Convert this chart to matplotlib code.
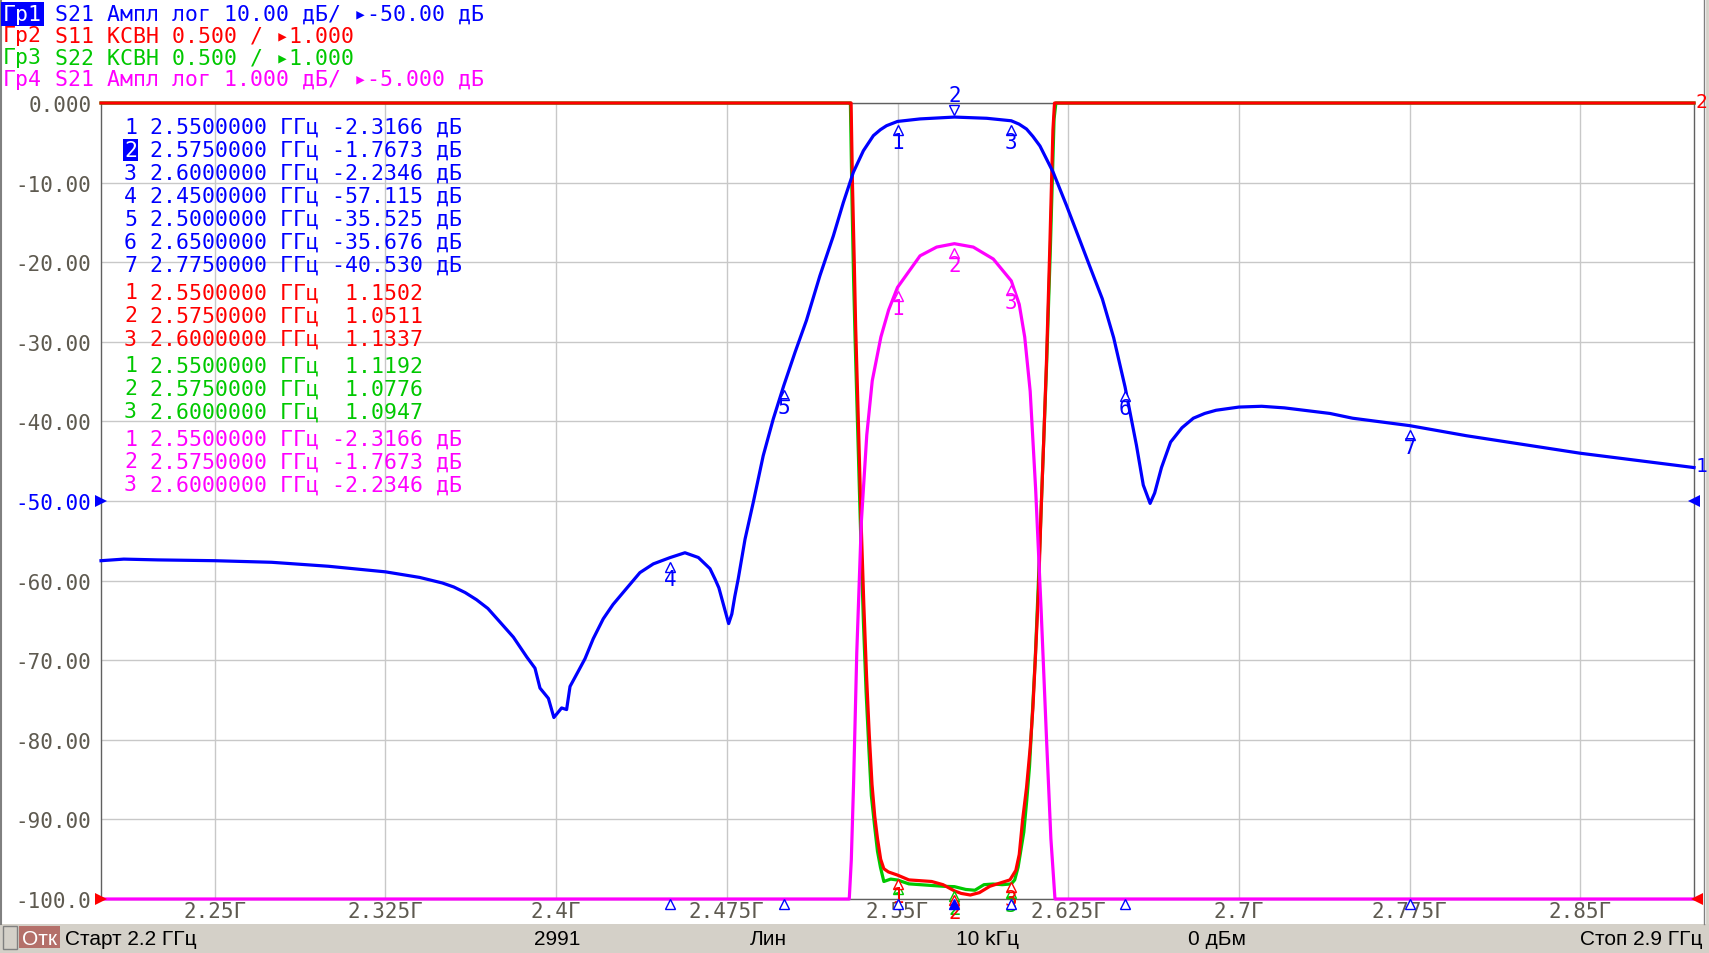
import numpy as np
import matplotlib
matplotlib.use('Agg')
import matplotlib.pyplot as plt
from matplotlib.transforms import offset_copy, blended_transform_factory
from matplotlib.patches import Rectangle
from matplotlib.lines import Line2D

# --- trace data ------------------------------------------------------------
# Tr1: S21, log magnitude (dB)
blue_f = [2.200, 2.210, 2.225, 2.250, 2.275, 2.300, 2.325, 2.340, 2.350, 2.355,
          2.360, 2.365, 2.370, 2.3753, 2.3812, 2.3871, 2.3907, 2.3929, 2.3966, 2.3990,
          2.4024, 2.4046, 2.4061, 2.4097, 2.4127, 2.4163, 2.4207, 2.4250, 2.4300, 2.4368,
          2.4427, 2.4500, 2.4566, 2.4625, 2.4676, 2.4698, 2.4715, 2.4735, 2.4758, 2.4772,
          2.4785, 2.4800, 2.4830, 2.4866, 2.4910, 2.4954, 2.5000, 2.5050, 2.5100, 2.5159,
          2.5218, 2.5262, 2.5306, 2.5350, 2.5394, 2.5425, 2.5452, 2.5500, 2.5599, 2.5750,
          2.5892, 2.6000, 2.6034, 2.6067, 2.6095, 2.6126, 2.6184, 2.6243, 2.6294, 2.6350,
          2.6400, 2.6450, 2.6500, 2.6550, 2.6580, 2.6610, 2.6630, 2.6660, 2.6700, 2.6750,
          2.6800, 2.6850, 2.6900, 2.7000, 2.7100, 2.7200, 2.7400, 2.7500, 2.7750, 2.8000,
          2.8250, 2.8500, 2.8750, 2.9000]
blue_db = [-57.5, -57.3, -57.4, -57.5, -57.7, -58.2, -58.9, -59.6, -60.3, -60.8,
           -61.5, -62.4, -63.5, -65.2, -67.1, -69.6, -71.0, -73.5, -74.8, -77.2,
           -76.0, -76.2, -73.3, -71.4, -69.8, -67.3, -64.8, -63.0, -61.3, -59.0,
           -57.9, -57.115, -56.5, -57.1, -58.5, -59.8, -60.9, -63.0, -65.4, -64.2,
           -62.0, -59.8, -54.8, -50.2, -44.3, -39.7, -35.525, -31.3, -27.3, -21.7,
           -16.7, -12.5, -8.7, -6.0, -4.1, -3.35, -2.85, -2.3166, -2.0, -1.7673,
           -1.92, -2.2346, -2.65, -3.27, -4.2, -5.4, -8.7, -12.9, -16.7, -20.9,
           -24.6, -29.5, -35.676, -43.0, -48.0, -50.3, -49.0, -45.8, -42.6, -40.8,
           -39.6, -39.0, -38.6, -38.2, -38.1, -38.3, -39.0, -39.6, -40.53, -41.8,
           -42.9, -44.0, -44.9, -45.8]

# Tr2: S11, VSWR
red_f = [2.200, 2.5282, 2.5291, 2.5296, 2.5302, 2.5310, 2.5316, 2.5328, 2.5340, 2.5352,
         2.5364, 2.5376, 2.5388, 2.5400, 2.5412, 2.5426, 2.5440, 2.5460, 2.5500, 2.5550,
         2.5600, 2.5650, 2.5700, 2.5750, 2.5780, 2.5820, 2.5860, 2.5906, 2.5950, 2.5994,
         2.6000, 2.6020, 2.6035, 2.6050, 2.6067, 2.6083, 2.6095, 2.6107, 2.6120, 2.6131,
         2.6143, 2.6155, 2.6169, 2.6183, 2.6190, 2.6200, 2.9000]
red_vswr = [30, 30, 8.0, 6.0, 5.5, 5.0, 4.6, 4.0, 3.37, 2.85,
            2.4, 2.03, 1.72, 1.52, 1.38, 1.25, 1.19, 1.17, 1.1502, 1.12,
            1.115, 1.11, 1.09, 1.0511, 1.035, 1.025, 1.04, 1.08, 1.10, 1.12,
            1.1337, 1.18, 1.28, 1.5, 1.7, 1.95, 2.2, 2.55, 2.95, 3.44,
            3.9, 4.39, 5.08, 5.83, 6.2, 30, 30]

# Tr3: S22, VSWR
green_f = [2.200, 2.5278, 2.5287, 2.5293, 2.5300, 2.5307, 2.5314, 2.5326, 2.5338, 2.5350,
           2.5362, 2.5374, 2.5385, 2.5400, 2.5412, 2.5425, 2.5440, 2.5470, 2.5500, 2.5550,
           2.5600, 2.5650, 2.5700, 2.5750, 2.5800, 2.5840, 2.5880, 2.5920, 2.5960, 2.6000,
           2.6015, 2.6030, 2.6055, 2.6068, 2.6080, 2.6092, 2.6105, 2.6118, 2.6130, 2.6143,
           2.6155, 2.6172, 2.6188, 2.6196, 2.6206, 2.9000]
green_vswr = [30, 30, 8.0, 6.0, 5.4, 4.9, 4.5, 3.9, 3.3, 2.75,
              2.3, 1.95, 1.65, 1.45, 1.3, 1.2, 1.11, 1.125, 1.1192, 1.095,
              1.09, 1.085, 1.08, 1.0776, 1.06, 1.055, 1.09, 1.094, 1.09, 1.0947,
              1.12, 1.2, 1.42, 1.62, 1.83, 2.15, 2.5, 2.95, 3.4, 3.9,
              4.35, 5.1, 5.9, 6.3, 30, 30]

# Tr4: S21, log magnitude zoomed (1 dB/div, ref -5 dB)
mag_f = [2.200, 2.5288, 2.5297, 2.5307, 2.5321, 2.5341, 2.5365, 2.5389, 2.5427, 2.5461,
         2.5500, 2.5599, 2.5672, 2.5750, 2.5833, 2.5921, 2.6000, 2.6035, 2.6059, 2.6083,
         2.6107, 2.6131, 2.6155, 2.6174, 2.6192, 2.9000]
mag_db = [-40, -40, -9.51, -8.55, -6.91, -5.27, -4.17, -3.49, -2.94, -2.60,
          -2.3166, -1.92, -1.81, -1.7673, -1.81, -1.96, -2.2346, -2.53, -2.94, -3.62,
          -4.85, -6.36, -8.0, -9.24, -40, -40]

# markers
blue_mk_f = [2.55, 2.575, 2.60, 2.45, 2.50, 2.65, 2.775]
blue_mk_v = [-2.3166, -1.7673, -2.2346, -57.115, -35.525, -35.676, -40.530]
red_mk_f = [2.55, 2.575, 2.60]
red_mk_v = [1.1502, 1.0511, 1.1337]
green_mk_f = [2.55, 2.575, 2.60]
green_mk_v = [1.1192, 1.0776, 1.0947]
mag_mk_f = [2.55, 2.575, 2.60]
mag_mk_v = [-2.3166, -1.7673, -2.2346]

xtick_vals = [2.25, 2.325, 2.40, 2.475, 2.55, 2.625, 2.70, 2.775, 2.85]
xtick_labels = ['2.25Г', '2.325Г', '2.4Г', '2.475Г', '2.55Г', '2.625Г', '2.7Г', '2.775Г', '2.85Г']
ytick_vals = [0, -10, -20, -30, -40, -50, -60, -70, -80, -90, -100]
ytick_labels = ['0.000', '-10.00', '-20.00', '-30.00', '-40.00', '-50.00',
                '-60.00', '-70.00', '-80.00', '-90.00', '-100.0']

header_tags = ['Гр1', 'Гр2', 'Гр3', 'Гр4']
header_lines = ['S21 Ампл лог 10.00 дБ/ ▸-50.00 дБ',
                'S11 КСВН 0.500 / ▸1.000',
                'S22 КСВН 0.500 / ▸1.000',
                'S21 Ампл лог 1.000 дБ/ ▸-5.000 дБ']
status_items = ['Старт 2.2 ГГц', '2991', 'Лин', '10 kГц', '0 дБм', 'Стоп 2.9 ГГц']

BLUE = '#0000ff'
RED = '#ff0000'
GREEN = '#00c800'
MAGENTA = '#ff00ff'
LABEL = '#5e5a50'
GRID = '#c8c8c8'
MONO = ['DejaVu Sans Mono', 'DejaVu Sans']
FS = 15.5
CW = 0.6021 * FS * 100 / 72   # monospace cell width in pixels

W, H = 1709, 954


def fx(x):
    return x / W


def fy(y):
    return 1 - y / H


# screen scales: every trace is mapped onto the shared 10-division grid
def y_vswr(v):
    return np.clip(-100 + (np.asarray(v) - 1.0) / 0.5 * 10, -100, 0)


def y_mag(v):
    return np.clip(-50 + (np.asarray(v) + 5.0) * 10, -100, 0)


def fmt5(v):
    digits = len(str(int(abs(v))))
    return f"{v:.{5 - digits}f}".rjust(7)


fig = plt.figure(figsize=(W / 100, H / 100), dpi=100)
fig.patch.set_facecolor('white')
ax = fig.add_axes([fx(101), fy(900), 1593 / W, 796 / H])
ax.set_xlim(2.2, 2.9)
ax.set_ylim(-100, 0)
ax.set_xticks(xtick_vals)
ax.set_xticklabels(xtick_labels, family=MONO, fontsize=15, color=LABEL)
ax.set_yticks(ytick_vals)
ax.set_yticklabels(ytick_labels, family=MONO, fontsize=15, color=LABEL)
ax.get_yticklabels()[5].set_color(BLUE)
ax.tick_params(axis='both', length=0)
ax.tick_params(axis='x', pad=1.5)
ax.tick_params(axis='y', pad=7)
ax.grid(color=GRID, lw=1)
ax.set_axisbelow(True)
for s in ['left', 'right', 'top', 'bottom']:
    ax.spines[s].set_color('#606060')
    ax.spines[s].set_linewidth(1)

LW = 2.3
ax.plot(green_f, y_vswr(green_vswr), color=GREEN, lw=LW, clip_on=False, zorder=3)
ax.plot(red_f, y_vswr(red_vswr), color=RED, lw=LW, clip_on=False, zorder=4)
ax.plot(mag_f, y_mag(mag_db), color=MAGENTA, lw=LW, clip_on=False, zorder=5)
ax.plot(blue_f, blue_db, color=BLUE, lw=LW, clip_on=False, zorder=6)


def draw_markers(fs, ys, color, active=None, z=7):
    below_tri = offset_copy(ax.transData, fig=fig, x=0, y=-9, units='dots')
    below_txt = offset_copy(ax.transData, fig=fig, x=0, y=-21, units='dots')
    above_tri = offset_copy(ax.transData, fig=fig, x=0, y=7, units='dots')
    above_txt = offset_copy(ax.transData, fig=fig, x=0, y=22, units='dots')
    for i, (f, y) in enumerate(zip(fs, ys)):
        if i == active:
            ax.plot(f, y, marker='v', ms=7, mfc='white', mec=color, mew=1,
                    transform=above_tri, clip_on=False, zorder=z)
            ax.text(f, y, str(i + 1), color=color, family=MONO, fontsize=15,
                    ha='center', va='center', transform=above_txt, clip_on=False, zorder=z)
        else:
            ax.plot(f, y, marker='^', ms=7, mfc='white', mec=color, mew=1,
                    transform=below_tri, clip_on=False, zorder=z)
            ax.text(f, y, str(i + 1), color=color, family=MONO, fontsize=15,
                    ha='center', va='center', transform=below_txt, clip_on=False, zorder=z)


draw_markers(blue_mk_f, blue_mk_v, BLUE, active=1)
draw_markers(mag_mk_f, y_mag(mag_mk_v), MAGENTA)
draw_markers(green_mk_f, y_vswr(green_mk_v), GREEN)
draw_markers(red_mk_f, y_vswr(red_mk_v), RED)

# marker flags along the frequency axis
bt = blended_transform_factory(ax.transData, ax.transAxes)
for i, f in enumerate(blue_mk_f):
    ax.plot(f, -0.006, marker='^', ms=7, mew=1, mec=BLUE,
            mfc=BLUE if i == 1 else 'white', transform=bt, clip_on=False, zorder=8)

# reference-level arrows and trace numbers at the edges
for xa, ya, m, c in [(0, 0.5, '>', BLUE), (0, 0.0, '>', RED),
                     (1, 0.5, '<', BLUE), (1.002, 0.0, '<', RED)]:
    ax.plot(xa, ya, marker=m, ms=8, color=c, mew=0, transform=ax.transAxes,
            clip_on=False, zorder=9)
fig.text(fx(1701), fy(467), '1', color=BLUE, family=MONO, fontsize=14, ha='center', va='center')
fig.text(fx(1701), fy(103), '2', color=RED, family=MONO, fontsize=14, ha='center', va='center')

# header lines
header_colors = [BLUE, RED, GREEN, MAGENTA]
header_y = [15, 36, 58, 80]
for i, (tag, line, c, y) in enumerate(zip(header_tags, header_lines, header_colors, header_y)):
    if i == 0:
        fig.text(fx(3), fy(y), tag, color='white', family=MONO, fontsize=FS,
                 ha='left', va='center',
                 bbox=dict(boxstyle='square,pad=0.08', fc=BLUE, ec='none'))
    else:
        fig.text(fx(3), fy(y), tag, color=c, family=MONO, fontsize=FS, ha='left', va='center')
    fig.text(fx(3 + 4 * CW), fy(y), line, color=c, family=MONO, fontsize=FS,
             ha='left', va='center')

# marker table
groups = [(blue_mk_f, blue_mk_v, BLUE, ' дБ', 128),
          (red_mk_f, red_mk_v, RED, '', 293.5),
          (green_mk_f, green_mk_v, GREEN, '', 366.5),
          (mag_mk_f, mag_mk_v, MAGENTA, ' дБ', 439.5)]
for fs, vs, c, unit, y0 in groups:
    for i, (f, v) in enumerate(zip(fs, vs)):
        row = f"{f:.7f} ГГц {fmt5(v)}{unit}"
        y = y0 + 23 * i
        if c == BLUE and i == 1:
            fig.text(fx(124), fy(y), str(i + 1), color='white', family=MONO, fontsize=FS,
                     ha='left', va='center',
                     bbox=dict(boxstyle='square,pad=0.05', fc=BLUE, ec='none'))
        else:
            fig.text(fx(124), fy(y), str(i + 1), color=c, family=MONO, fontsize=FS,
                     ha='left', va='center')
        fig.text(fx(124 + 2 * CW), fy(y), row, color=c, family=MONO, fontsize=FS,
                 ha='left', va='center')

# status bar
fig.patches.append(Rectangle((0, 0), 1, fy(925), transform=fig.transFigure,
                             fc='#d4d0c8', ec='none', zorder=0))
fig.patches.append(Rectangle((fx(3), fy(950)), 14 / W, 23 / H, transform=fig.transFigure,
                             fc='#d4d0c8', ec='#808080', lw=1, zorder=1))
fig.patches.append(Rectangle((fx(19), fy(949)), 41 / W, 22 / H, transform=fig.transFigure,
                             fc='#b4706a', ec='none', zorder=1))
fig.text(fx(39.5), fy(940), 'Отк', color='white', family='Liberation Sans', fontsize=15,
         ha='center', va='center')
status_x = [65, 557, 768, 988, 1217, 1702]
status_ha = ['left', 'center', 'center', 'center', 'center', 'right']
for t, x, ha in zip(status_items, status_x, status_ha):
    fig.text(fx(x), fy(940), t, color='black', family='Liberation Sans', fontsize=15,
             ha=ha, va='center')

# window frame
fig.lines.append(Line2D([fx(1), fx(1)], [fy(925), 1], transform=fig.transFigure,
                        color='#808080', lw=1.5))
fig.lines.append(Line2D([fx(1704), fx(1704)], [fy(925), 1], transform=fig.transFigure,
                        color='#808080', lw=1))
fig.lines.append(Line2D([fx(1707), fx(1707)], [0, 1], transform=fig.transFigure,
                        color='#d4d0c8', lw=2))

fig.savefig('out.png', dpi=100)
